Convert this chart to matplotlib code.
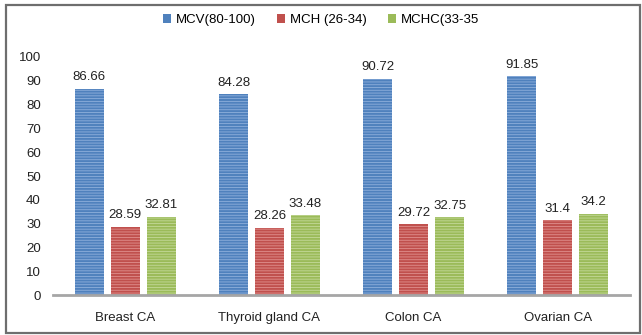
import matplotlib
matplotlib.use("Agg")
import matplotlib.pyplot as plt
from matplotlib.patches import Rectangle
import numpy as np

plt.rcParams['font.family'] = ['Liberation Sans Narrow', 'Liberation Sans', 'DejaVu Sans']
plt.rcParams['hatch.linewidth'] = 0.6

categories = ["Breast CA", "Thyroid gland CA", "Colon CA", "Ovarian CA"]
series_names = ["MCV(80-100)", "MCH (26-34)", "MCHC(33-35"]
mcv = [86.66, 84.28, 90.72, 91.85]
mch = [28.59, 28.26, 29.72, 31.4]
mchc = [32.81, 33.48, 32.75, 34.2]
value_labels = [["86.66", "84.28", "90.72", "91.85"],
                ["28.59", "28.26", "29.72", "31.4"],
                ["32.81", "33.48", "32.75", "34.2"]]
yticks = [0, 10, 20, 30, 40, 50, 60, 70, 80, 90, 100]

colors = ["#4F81BD", "#C0504D", "#9BBB59"]
stripe = ["#8FB0DC", "#E0908E", "#C4D99A"]

fig = plt.figure(figsize=(6.42, 3.35), dpi=100)
fig.patches.append(Rectangle((0.009, 0.006), 0.988, 0.978, transform=fig.transFigure,
                             fill=False, edgecolor="#6E6E6E", linewidth=1.6))
ax = fig.add_axes([0.083, 0.119, 0.898, 0.711])

x = np.arange(len(categories))
width = 0.2
step = 0.25
for i, vals in enumerate([mcv, mch, mchc]):
    pos = x + (i - 1) * step
    bars = ax.bar(pos, vals, width, color=colors[i], edgecolor=stripe[i],
                  hatch="------", linewidth=0, label=series_names[i])
    for b, lab in zip(bars, value_labels[i]):
        ax.annotate(lab, (b.get_x() + b.get_width() / 2, b.get_height()),
                    xytext=(0, 4), textcoords="offset points", ha="center",
                    va="bottom", fontsize=9.5, color="#222222")

ax.set_xlim(-0.5, len(categories) - 0.5)
ax.set_ylim(0, 100)
ax.set_yticks(yticks)
ax.set_yticklabels([str(t) for t in yticks], fontsize=9.5, color="#222222")
ax.set_xticks(x)
ax.set_xticklabels(categories, fontsize=9.5, color="#222222")
ax.tick_params(axis="both", length=0)
ax.tick_params(axis="x", pad=12)
ax.tick_params(axis="y", pad=9)
for s in ["top", "right", "left"]:
    ax.spines[s].set_visible(False)
ax.spines["bottom"].set_color("#A6A6A6")
ax.spines["bottom"].set_linewidth(2)

leg = fig.legend(loc="center", bbox_to_anchor=(0.5, 0.94), ncol=3, frameon=False,
                 fontsize=9.5, handlelength=0.6, handleheight=0.6, handletextpad=0.4,
                 columnspacing=1.6)
for h in leg.legend_handles:
    h.set_hatch(None)

fig.savefig("out.png", dpi=100)
